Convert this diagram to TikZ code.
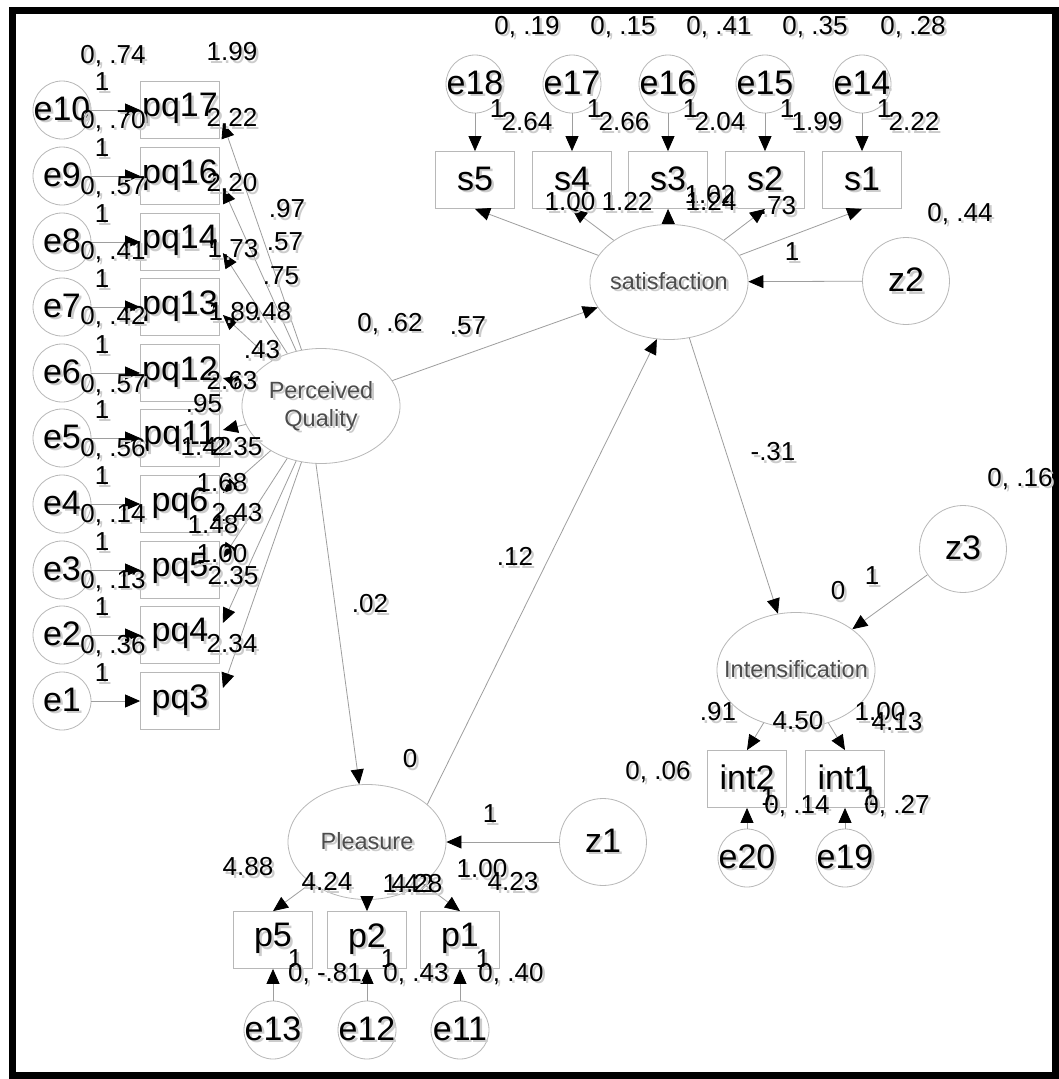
\documentclass[tikz,border=0pt]{standalone}
\usepackage{fontspec}
\setmainfont{Liberation Sans}
\usetikzlibrary{arrows.meta,shapes.geometric,calc}
\definecolor{shapegray}{gray}{0.72}
\definecolor{linegray}{gray}{0.62}
\definecolor{latgray}{gray}{0.3}
\definecolor{shadowgray}{gray}{0.8}
\newcommand{\sht}[1]{\makebox[0pt][l]{\hspace{2.5pt}\raisebox{-2.5pt}{\textcolor{shadowgray}{#1}}}#1}
\newcommand{\mb}[1]{\makebox[0pt]{\sht{#1}}}
\begin{document}
\begin{tikzpicture}[x=1pt,y=-1pt,
  obs/.style={draw=shapegray, line width=0.8pt, minimum width=79pt, minimum height=57pt, inner sep=0pt, font=\fontsize{34}{36}\selectfont},
  err/.style={circle, draw=shapegray, line width=0.8pt, minimum size=58pt, inner sep=0pt, font=\fontsize{34}{36}\selectfont},
  dist/.style={circle, draw=shapegray, line width=0.8pt, minimum size=87pt, inner sep=0pt, font=\fontsize{34}{36}\selectfont},
  lat/.style={ellipse, draw=shapegray, line width=0.8pt, minimum width=158pt, minimum height=115pt, inner sep=0pt, font=\fontsize{23.5}{30}\selectfont, text=latgray},
  lbl/.style={font=\fontsize{26}{28}\selectfont, inner sep=0pt},
  arr/.style={draw=linegray, line width=0.8pt, -{Triangle[length=15pt,width=13pt,color=black]}},
]
\useasboundingbox (0,0) rectangle (1058,1079);
\fill[white] (0,0) rectangle (1058,1079);
\draw[line width=7pt] (12,10) rectangle (1055,1075);

% left column
\foreach \e/\p/\y in {e10/pq17/110, e9/pq16/176, e8/pq14/242, e7/pq13/307, e6/pq12/373, e5/pq11/438, e4/pq6/504, e3/pq5/570, e2/pq4/635, e1/pq3/701}{
  \node[err] (\e) at (62,\y) {\mb{\e}};
  \node[obs] (\p) at (180,\y) {\mb{\p}};
  \draw[arr] (\e) -- (\p);
}
% latent variables
\node[lat] (PQ) at (321,406) {\makebox[0pt]{\begin{tabular}{@{}c@{}}\sht{Perceived}\\[-2pt]\sht{Quality}\end{tabular}}};
\node[lat] (SAT) at (669,282) {\mb{satisfaction}};
\node[lat] (INT) at (796,670) {\mb{Intensification}};
\node[lat] (PLE) at (367,842) {\mb{Pleasure}};

\foreach \p/\o in {pq17/13, pq16/12, pq14/11, pq13/8, pq12/5, pq11/-8, pq6/-11, pq5/-12, pq4/-12, pq3/-13}{
  \draw[arr] (PQ) -- ($(\p.east)+(3,\o)$);
}

% top: satisfaction indicators
\foreach \e/\s/\x in {e18/s5/475, e17/s4/572, e16/s3/668, e15/s2/765, e14/s1/862}{
  \node[err] (\e) at (\x,84) {\mb{\e}};
  \node[obs] (\s) at (\x,180) {\mb{\s}};
  \draw[arr] (\e) -- (\s);
  \draw[arr] (SAT) -- (\s.south);
}
\node[dist] (z2) at (906,281) {\mb{z2}};
\draw[arr] (z2) -- (SAT);

% intensification
\node[dist] (z3) at (963,549) {\mb{z3}};
\draw[arr] (z3) -- (INT);
\draw[arr] (SAT.290) -- (INT);
\foreach \e/\s/\x in {e20/int2/747, e19/int1/845}{
  \node[obs] (\s) at (\x,779) {\mb{\s}};
  \node[err] (\e) at (\x,858) {\mb{\e}};
  \draw[arr] (\e) -- (\s);
  \draw[arr] (INT) -- (\s.north);
}

% pleasure
\node[dist] (z1) at (603,842) {\mb{z1}};
\draw[arr] (z1) -- (PLE);
\foreach \e/\s/\x in {e13/p5/273, e12/p2/367, e11/p1/460}{
  \node[obs] (\s) at (\x,940) {\mb{\s}};
  \node[err] (\e) at (\x,1030) {\mb{\e}};
  \draw[arr] (\e) -- (\s);
  \draw[arr] (PLE) -- (\s.north);
}

% structural paths
\draw[arr] (PQ) -- (SAT);
\draw[arr] (PQ.265) -- (PLE);
\draw[arr] (PLE.32) -- (SAT.258);

% labels: left column
\foreach \t/\x/\y [count=\i] in {{0, .74}/113/57, {0, .70}/113/122, {0, .57}/113/188, {0, .41}/113/253, {0, .42}/113/318, {0, .57}/113/386, {0, .56}/113/450, {0, .14}/113/516, {0, .13}/113/582, {0, .36}/113/647}{
  \node[lbl] (LV\i) at (\x,\y) {\sht{\t}};
}
\foreach \y [count=\i] in {110,176,242,307,373,438,504,570,635,701}{
  \node[lbl] (LO\i) at (102,\y-27) {\sht{1}};
}
\foreach \t/\x/\y [count=\i] in {1.99/232/53, 2.22/232/119, 2.20/232/184, .97/287/210, 1.73/233/250, .57/285/243, .75/281/277, 1.89/234/313, .48/273/313, .43/262/351, 2.63/232/382, .95/204/405, 1.42/206/448, 2.35/237/448, 1.68/222/484, 2.43/237/514, 1.48/213/526, 1.00/222/555, 2.35/233/577, 2.34/232/645}{
  \node[lbl] (LR\i) at (\x,\y) {\sht{\t}};
}
% labels: top
\foreach \t/\x [count=\i] in {{0, .19}/527, {0, .15}/623, {0, .41}/719, {0, .35}/815, {0, .28}/913}{
  \node[lbl] (LT\i) at (\x,28) {\sht{\t}};
}
\foreach \t/\x [count=\i] in {2.64/475, 2.66/572, 2.04/668, 1.99/765, 2.22/862}{
  \node[lbl] (LU\i) at (\x+22,110) {\sht{1}};
  \node[lbl] (LM\i) at (\x+52,123) {\sht{\t}};
}
\foreach \t/\x/\y [count=\i] in {1.00/570/203, 1.22/627/203, 1.02/710/196, 1.24/711/203, .73/778/207, {0, .44}/960/215, 1/792/253}{
  \node[lbl] (LS\i) at (\x,\y) {\sht{\t}};
}
% labels: middle
\foreach \t/\x/\y [count=\i] in {{0, .62}/390/325, .57/468/327, .02/370/605, .12/515/558, -.31/773/453}{
  \node[lbl] (LP\i) at (\x,\y) {\sht{\t}};
}
% labels: intensification
\foreach \t/\x/\y [count=\i] in {{0, .16}/1020/480, 1/872/577, 0/838/592, .91/718/713, 4.50/798/722, 1.00/880/713, 4.13/897/723, {0, .06}/658/773, 1/768/798, {0, .14}/797/807, 1/870/798, {0, .27}/897/807}{
  \node[lbl] (LI\i) at (\x,\y) {\sht{\t}};
}
% labels: pleasure
\foreach \t/\x/\y [count=\i] in {0/410/760, 1/490/815, 4.88/248/868, 4.24/327/883, 1.42/408/885, 4.28/417/885, 1.00/482/870, 4.23/513/883, 1/295/960, {0, -.81}/325/975, 1/388/960, {0, .43}/416/975, 1/483/960, {0, .40}/511/975}{
  \node[lbl] (LQ\i) at (\x,\y) {\sht{\t}};
}
\end{tikzpicture}
\end{document}
